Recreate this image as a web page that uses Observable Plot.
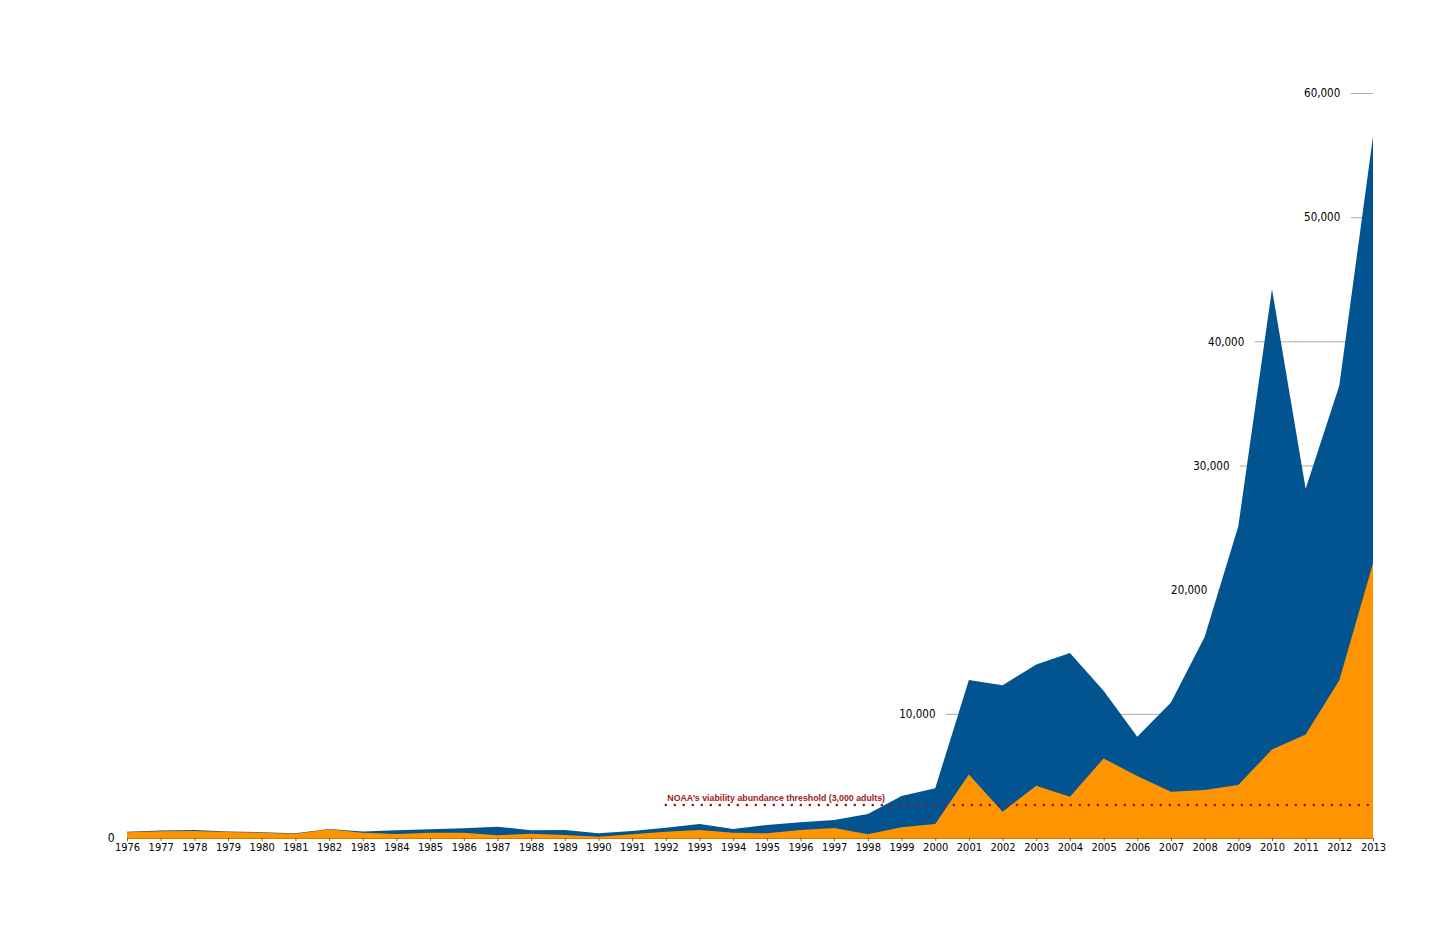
<!DOCTYPE html>
<html>
<head>
<meta charset="utf-8">
<script src="https://cdn.jsdelivr.net/npm/d3@7"></script>
<script src="https://cdn.jsdelivr.net/npm/@observablehq/plot@0.6"></script>
<style>
  html, body { margin: 0; padding: 0; background: #fff; }
  #chart { width: 1454px; height: 928px; }
</style>
</head>
<body>
<div id="chart"></div>
<script>
const years = d3.range(1976, 2014);
const totalValues = [500, 600, 650, 520, 470, 380, 720, 520, 620, 700, 780, 910, 620, 640, 380, 560, 830, 1130, 720, 1050, 1260, 1450, 1930, 3380, 4000, 12730, 12300, 13970, 14900, 11850, 8150, 10910, 16190, 25100, 44210, 28130, 36450, 56500];
const orangeValues = [460, 540, 560, 480, 430, 350, 700, 430, 320, 430, 430, 220, 350, 240, 110, 300, 510, 640, 430, 380, 640, 800, 300, 860, 1130, 5120, 2120, 4210, 3320, 6410, 4990, 3730, 3860, 4260, 7130, 8340, 12710, 22120];
const gridValues = [10000, 20000, 30000, 40000, 50000, 60000];
const gridStartYears = [2000.32, 2008.39, 2009.05, 2009.49, 2012.34, 2012.34];
const thresholdLine = 2700;
const thresholdStart = 1992;
const thresholdLabel = "NOAA\u2019s viability abundance threshold (3,000 adults)";

const data = years.map((y, i) => ({year: y, total: totalValues[i], orange: orangeValues[i]}));
const grid = gridValues.map((v, i) => ({value: v, start: gridStartYears[i], end: 2013}));
const narrow = "'Liberation Sans Narrow', 'DejaVu Sans Condensed', 'Roboto', sans-serif";

const chart = Plot.plot({
  width: 1454,
  height: 928,
  marginLeft: 127,
  marginRight: 81,
  marginTop: 93,
  marginBottom: 90,
  style: {fontFamily: narrow, background: "#fff"},
  x: {domain: [1976, 2013], axis: null},
  y: {domain: [0, 60000], axis: null},
  marks: [
    Plot.ruleY(grid, {y: "value", x1: "start", x2: "end", stroke: "#aaaaaa", strokeWidth: 1}),
    Plot.text(grid, {y: "value", x: "start", text: d => d3.format(",")(d.value), textAnchor: "end", dx: -11, fontSize: 11.5, fill: "#000", fontFamily: narrow}),
    Plot.areaY(data, {x: "year", y: "total", fill: "#01548f", curve: "linear"}),
    Plot.areaY(data, {x: "year", y: "orange", fill: "#fe9400", curve: "linear"}),
    Plot.ruleY([0], {stroke: "#d47a00", strokeWidth: 1}),
    Plot.ruleX(years, {x: d => d, y1: 0, y2: 0, insetBottom: -3, stroke: "#5a4020", strokeWidth: 0.8}),
    Plot.axisX({ticks: years, tickFormat: d => String(d), tickSize: 0, tickPadding: 5, fontSize: 11, fill: "#000", fontFamily: narrow}),
    Plot.text([0], {x: 1976, y: d => d, text: d => String(d), textAnchor: "end", dx: -13, fontSize: 12, fill: "#000", fontFamily: narrow}),
    Plot.ruleY([thresholdLine], {x1: thresholdStart, x2: 2013, stroke: "#8e1616", strokeWidth: 2.6, strokeLinecap: "round", strokeDasharray: "0 9"}),
    Plot.text([thresholdLine], {x: thresholdStart, y: d => d, text: () => thresholdLabel, textAnchor: "start", lineAnchor: "bottom", dx: 1, dy: -4, fontSize: 8.8, fontWeight: "bold", fill: "#9b1b1b", fontFamily: "'Liberation Sans', Arial, sans-serif"})
  ]
});
document.getElementById("chart").appendChild(chart);
</script>
</body>
</html>
